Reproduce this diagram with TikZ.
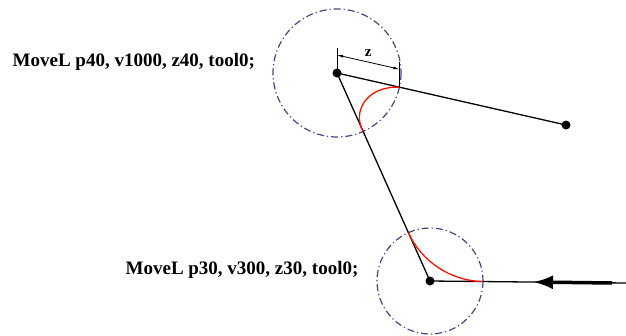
\documentclass[tikz,border=0pt]{standalone}
\usepackage{fontspec}
\setmainfont{Liberation Serif}
\usetikzlibrary{arrows.meta, calc}

\begin{document}
\begin{tikzpicture}[x=1pt, y=-1pt, line width=1.3pt,
    cmd/.style={font=\fontsize{19}{20}\selectfont\bfseries, inner sep=0pt},
    zone/.style={line width=1.2pt, draw={rgb,255:red,70;green,70;blue,130}, dash pattern=on 7pt off 3pt on 1.2pt off 3pt},
    path/.style={red!85!orange, line width=1.3pt},
    pt/.style={fill=black, circle, inner sep=0pt, minimum size=9pt}]
    \useasboundingbox (0,0) rectangle (626,335);
    \coordinate (p40) at (337,73);
    \coordinate (p30) at (430,281);
    \coordinate (pend) at (566,125);
    \coordinate (pout) at (626,283);
    \node[cmd, anchor=base west] (cmd40) at (12,66) {MoveL p40, v1000, z40, tool0;};
    \node[cmd, anchor=base east] (cmd30) at (359,274) {MoveL p30, v300, z30, tool0;};
    % zones
    \draw[zone] (p40) circle[radius=64];
    \draw[zone] (p30) circle[radius=53];
    % programmed path
    \draw (p30) -- (p40) -- (pend);
    \draw (p30) -- (pout);
    % corner paths
    \coordinate (a40) at ($(p40)!64pt!(p30)$);
    \coordinate (b40) at ($(p40)!64pt!(pend)$);
    \coordinate (a30) at ($(p30)!53pt!(p40)$);
    \coordinate (b30) at ($(p30)!53pt!(pout)$);
    \draw[path] (a40) .. controls ($(p40)+(15,39)$) and ($(p40)+(29,13)$) .. (b40);
    \draw[path] (a30) .. controls ($(a30)!0.6!(p30)$) and ($(b30)!0.6!(p30)$) .. (b30);
    % zone size
    \coordinate (z1) at ($(p40)+(0,-18)$);
    \coordinate (z2) at ($(b40)+(0,-18)$);
    \draw[line width=0.8pt] (p40) -- ($(p40)+(0,-25)$);
    \draw[line width=0.8pt] (b40) -- ($(b40)+(0,-25)$);
    \draw[line width=0.8pt, {Latex[length=6pt,width=3pt]}-{Latex[length=6pt,width=3pt]}] (z1) -- node[above=2pt, font=\fontsize{15}{15}\selectfont\bfseries] (zlab) {z} (z2);
    % direction of motion
    \coordinate (arrs) at (612,283);
    \coordinate (arre) at (533,282);
    \draw[line width=3.5pt, -{Latex[length=20pt,width=14pt]}] (arrs) -- (arre);
    \node[pt] (d40) at (p40) {};
    \node[pt] (d30) at (p30) {};
    \node[pt] (dend) at (pend) {};
\end{tikzpicture}
\end{document}
